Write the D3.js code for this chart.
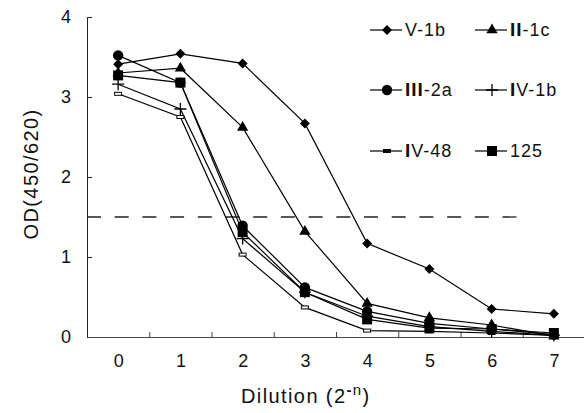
<!DOCTYPE html>
<html>
<head>
<meta charset="utf-8">
<script src="https://cdn.jsdelivr.net/npm/d3@7"></script>
<style>
  body { margin: 0; background: #fff; }
  svg { display: block; font-family: "Liberation Sans", Arial, sans-serif; }
</style>
</head>
<body>
<svg id="chart" width="584" height="413"></svg>
<script>
// dilution steps (2^-n)
const dilutions = [0, 1, 2, 3, 4, 5, 6, 7];
const yTicks = [0, 1, 2, 3, 4];
const cutoff = 1.5;

const v1b  = [3.41, 3.54, 3.42, 2.67, 1.17, 0.85, 0.35, 0.29];
const ii1c = [3.30, 3.36, 2.62, 1.32, 0.42, 0.24, 0.15, 0.01];
const iii2a = [3.52, 3.18, 1.39, 0.62, 0.32, 0.17, 0.10, 0.03];
const iv1b = [3.16, 2.85, 1.23, 0.56, 0.26, 0.13, 0.07, 0.02];
const iv48 = [3.04, 2.75, 1.03, 0.37, 0.08, 0.07, 0.05, 0.02];
const s125 = [3.27, 3.18, 1.31, 0.56, 0.22, 0.11, 0.10, 0.05];

const series = [
  { roman: "", name: "V-1b", values: v1b, marker: "diamond" },
  { roman: "II", name: "-1c", values: ii1c, marker: "triangle" },
  { roman: "III", name: "-2a", values: iii2a, marker: "circle" },
  { roman: "I", name: "V-1b", values: iv1b, marker: "plus" },
  { roman: "I", name: "V-48", values: iv48, marker: "dash" },
  { roman: "", name: "125", values: s125, marker: "square" }
];

const svg = d3.select("#chart");
const plotL = 87, plotR = 585, plotT = 17, plotB = 337;

const x = d3.scaleLinear().domain([-0.5, 7.5]).range([plotL, plotR]);
const y = d3.scaleLinear().domain([0, 4]).range([plotB, plotT]);

// axes
svg.append("g")
  .attr("transform", `translate(${plotL},0)`)
  .call(d3.axisLeft(y).tickValues(yTicks).tickSize(-5).tickPadding(16).tickSizeOuter(0).tickFormat(d3.format("d")))
  .call(g => g.select(".domain").attr("stroke", "#222"))
  .call(g => g.selectAll(".tick line").attr("stroke", "#222"))
  .call(g => g.selectAll("text").attr("font-size", 18).attr("fill", "#111"));

svg.append("g")
  .attr("transform", `translate(0,${plotB})`)
  .call(d3.axisBottom(x).tickValues(d3.range(0.5, 7, 1)).tickSize(-5).tickSizeOuter(0).tickFormat(""))
  .call(g => g.select(".domain").attr("stroke", "#444"))
  .call(g => g.selectAll(".tick line").attr("stroke", "#444"));

svg.append("g")
  .attr("transform", `translate(0,${plotB})`)
  .call(d3.axisBottom(x).tickValues(dilutions).tickSize(0).tickPadding(17).tickFormat(d3.format("d")))
  .call(g => g.select(".domain").remove())
  .call(g => g.selectAll("text").attr("font-size", 18).attr("fill", "#111"));

// axis titles
const xt = svg.append("text")
  .attr("x", 241).attr("y", 403)
  .attr("font-size", 20).attr("letter-spacing", 1.4).attr("fill", "#111");
xt.append("tspan").text("Dilution (2");
xt.append("tspan").attr("dy", -8).attr("font-size", 15).attr("font-weight", "bold").text("-");
xt.append("tspan").attr("font-size", 15).text("n");
xt.append("tspan").attr("dy", 8).text(")");

svg.append("text")
  .attr("transform", "translate(38,174) rotate(-90)")
  .attr("text-anchor", "middle")
  .attr("font-size", 20).attr("letter-spacing", 1.4).attr("fill", "#111")
  .text("OD(450/620)");

// cut-off line
svg.append("line")
  .attr("x1", plotL).attr("x2", x(6.5))
  .attr("y1", y(cutoff)).attr("y2", y(cutoff))
  .attr("stroke", "#222").attr("stroke-width", 1.3)
  .attr("stroke-dasharray", "14,13.7");

function drawMarker(g, type, legend) {
  if (type === "diamond") {
    g.append("path").attr("d", d3.symbol(d3.symbolSquare, 50)()).attr("transform", "rotate(45)").attr("fill", "#000");
  } else if (type === "triangle") {
    g.append("path").attr("d", d3.symbol(d3.symbolTriangle, 55)()).attr("fill", "#000");
  } else if (type === "circle") {
    g.append("path").attr("d", d3.symbol(d3.symbolCircle, 85)()).attr("fill", "#000");
  } else if (type === "square") {
    g.append("path").attr("d", d3.symbol(d3.symbolSquare, 100)()).attr("fill", "#000");
  } else if (type === "plus") {
    g.append("path").attr("d", "M-6,0H6M0,-6V6").attr("stroke", "#000").attr("stroke-width", 1.3);
  } else if (type === "dash") {
    g.append("rect").attr("x", -3.5).attr("y", -1.5).attr("width", 7).attr("height", 3)
      .attr("fill", legend ? "#000" : "#fff").attr("stroke", "#000").attr("stroke-width", 1);
  }
}

const line = d3.line().x((d, i) => x(dilutions[i])).y(d => y(d));

series.forEach(s => {
  svg.append("path")
    .attr("d", line(s.values))
    .attr("fill", "none").attr("stroke", "#000").attr("stroke-width", 1.2);
});
series.forEach(s => {
  svg.append("g").selectAll("g")
    .data(s.values)
    .join("g")
    .attr("transform", (d, i) => `translate(${x(dilutions[i])},${y(d)})`)
    .each(function() { drawMarker(d3.select(this), s.marker, false); });
});

// legend
const legendPos = [
  { x: 370, y: 30 }, { x: 475, y: 30 },
  { x: 370, y: 90 }, { x: 475, y: 90 },
  { x: 370, y: 151 }, { x: 475, y: 151 }
];
series.forEach((s, i) => {
  const p = legendPos[i];
  const g = svg.append("g").attr("transform", `translate(${p.x},${p.y})`);
  g.append("line").attr("x1", 0).attr("x2", 32).attr("stroke", "#000").attr("stroke-width", 1.2);
  drawMarker(g.append("g").attr("transform", "translate(17,0)"), s.marker, true);
  const t = g.append("text").attr("x", 35).attr("y", 6)
    .attr("font-size", 18).attr("letter-spacing", 1).attr("fill", "#111");
  if (s.roman) t.append("tspan").attr("font-weight", "bold").attr("font-size", 19).text(s.roman);
  t.append("tspan").text(s.name);
});
</script>
</body>
</html>
